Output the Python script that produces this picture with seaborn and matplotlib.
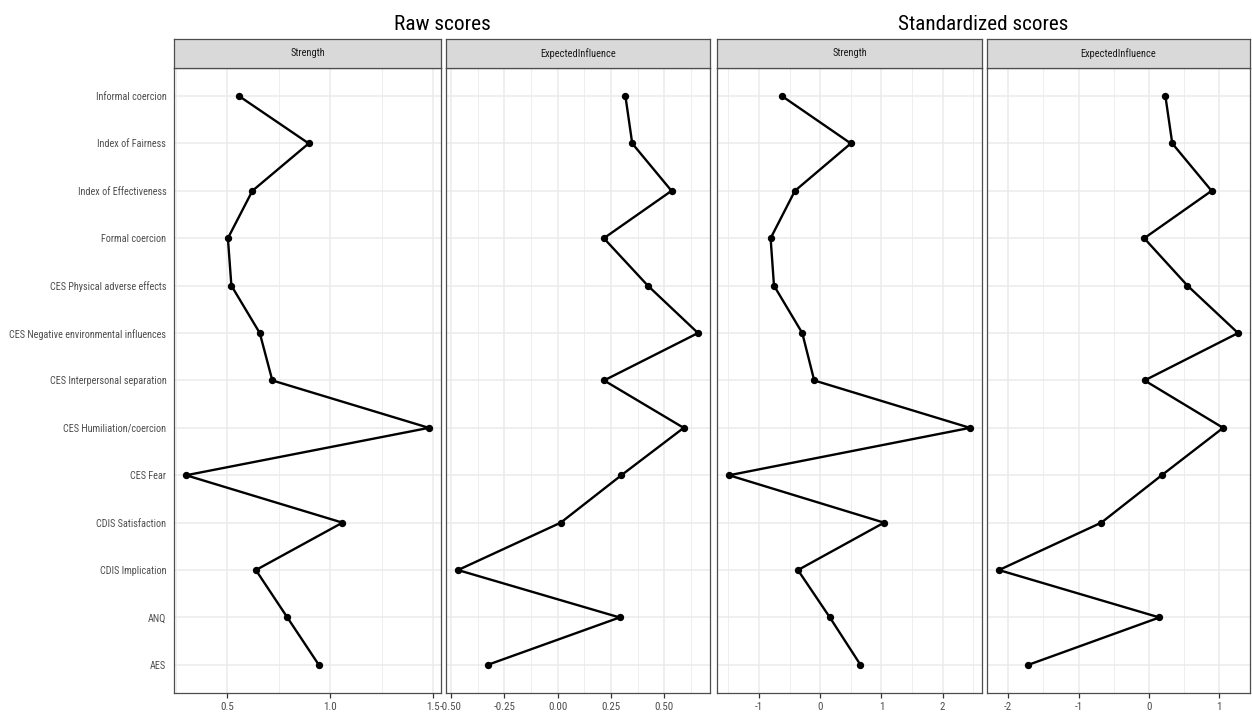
import numpy as np
import pandas as pd
import seaborn as sns
import matplotlib.pyplot as plt
from matplotlib import font_manager
from matplotlib.ticker import MultipleLocator, FormatStrFormatter

# node labels, listed top to bottom as in the figure
nodes = ["Informal coercion", "Index of Fairness", "Index of Effectiveness",
         "Formal coercion", "CES Physical adverse effects",
         "CES Negative environmental influences", "CES Interpersonal separation",
         "CES Humiliation/coercion", "CES Fear", "CDIS Satisfaction",
         "CDIS Implication", "ANQ", "AES"]

raw_strength = [0.557, 0.896, 0.622, 0.503, 0.520, 0.658, 0.719,
                1.480, 0.300, 1.060, 0.639, 0.792, 0.945]
raw_ei = [0.317, 0.349, 0.533, 0.216, 0.422, 0.657, 0.217,
          0.590, 0.298, 0.014, -0.467, 0.290, -0.328]
std_strength = [-0.625, 0.500, -0.413, -0.810, -0.755, -0.293, -0.098,
                2.446, -1.489, 1.043, -0.364, 0.158, 0.658]
std_ei = [0.235, 0.333, 0.892, -0.066, 0.549, 1.268, -0.061,
          1.056, 0.183, -0.676, -2.131, 0.150, -1.714]

# long table: one block per facet
pos = np.arange(len(nodes))[::-1]
frames = []
for scale, measure, vals in [("Raw scores", "Strength", raw_strength),
                             ("Raw scores", "ExpectedInfluence", raw_ei),
                             ("Standardized scores", "Strength", std_strength),
                             ("Standardized scores", "ExpectedInfluence", std_ei)]:
    frames.append(pd.DataFrame({"node": nodes, "pos": pos, "value": vals,
                                "scale": scale, "measure": measure}))
df = pd.concat(frames, ignore_index=True)

sns.set_theme(style="white")

# the reference text is narrow; use a condensed face if there is one,
# otherwise shrink the regular one so the widths still fit
have = {f.name for f in font_manager.fontManager.ttflist}
if "Liberation Sans Narrow" in have:
    face, k = "Liberation Sans Narrow", 1.0
elif "Roboto Condensed" in have:
    face, k = "Roboto Condensed", 1.0
else:
    face, k = "Liberation Sans", 0.8
plt.rcParams["font.family"] = [face, "DejaVu Sans"]

W, H = 1252, 716
fig = plt.figure(figsize=(W / 100, H / 100), dpi=100)

def px_axes(x0, y0, x1, y1):
    return fig.add_axes([x0 / W, 1 - y1 / H, (x1 - x0) / W, (y1 - y0) / H])

panel_top, panel_bot = 67.6, 693.3
strip_top = 39
boxes = [(174, 441), (446, 710), (717, 982), (987, 1250)]
facets = [("Raw scores", "Strength", 0.5, 0.25, "%.1f"),
          ("Raw scores", "ExpectedInfluence", 0.25, 0.125, "%.2f"),
          ("Standardized scores", "Strength", 1, 0.5, "%d"),
          ("Standardized scores", "ExpectedInfluence", 1, 0.5, "%d")]

border = "#4d4d4d"
for i, ((x0, x1), (scale, measure, maj, mnr, fmt)) in enumerate(zip(boxes, facets)):
    ax = px_axes(x0, panel_top, x1, panel_bot)
    sub = df[(df.scale == scale) & (df.measure == measure)]
    sns.lineplot(data=sub, x="value", y="pos", sort=False, estimator=None,
                 color="black", linewidth=1.7, ax=ax, zorder=3)
    sns.scatterplot(data=sub, x="value", y="pos", color="black", s=28,
                    linewidth=0, ax=ax, zorder=4)
    ax.margins(x=0.05)
    ax.set_ylim(-0.6, len(nodes) - 0.4)
    ax.xaxis.set_major_locator(MultipleLocator(maj))
    ax.xaxis.set_minor_locator(MultipleLocator(mnr))
    ax.xaxis.set_major_formatter(FormatStrFormatter(fmt))
    ax.set_yticks(pos)
    if i == 0:
        ax.set_yticklabels(nodes)
        ax.tick_params(axis="y", length=3.5, width=0.9, color="#333333",
                       labelsize=7.3 * k, labelcolor="#4d4d4d", pad=2)
    else:
        ax.set_yticklabels([])
        ax.tick_params(axis="y", length=0)
    ax.tick_params(axis="x", which="major", length=3.5, width=0.9, color="#333333",
                   labelsize=7.9 * k, labelcolor="#4d4d4d", pad=2.5, bottom=True)
    ax.tick_params(axis="x", which="minor", length=0)
    ax.grid(which="major", color="#ebebeb", linewidth=1.1)
    ax.grid(which="minor", axis="x", color="#ebebeb", linewidth=0.6)
    ax.set_axisbelow(True)
    ax.set_xlabel("")
    ax.set_ylabel("")
    for sp in ax.spines.values():
        sp.set_visible(True)
        sp.set_color(border)
        sp.set_linewidth(0.9)

    # facet strip
    st = px_axes(x0, strip_top, x1, panel_top)
    st.set_facecolor("#d9d9d9")
    st.set_xticks([])
    st.set_yticks([])
    for sp in st.spines.values():
        sp.set_visible(True)
        sp.set_color(border)
        sp.set_linewidth(0.9)
    st.text(0.5, 0.5, measure, ha="center", va="center", fontsize=7.5 * k,
            color="#1a1a1a", transform=st.transAxes)

# group titles over each pair of facets
fig.text(((174 + 710) / 2) / W, 1 - 30.5 / H, "Raw scores", ha="center",
         va="baseline", fontsize=15.4 * k, color="black")
fig.text(((717 + 1250) / 2) / W, 1 - 30.5 / H, "Standardized scores", ha="center",
         va="baseline", fontsize=15.2 * k, color="black")

fig.savefig("out.png", dpi=100)
